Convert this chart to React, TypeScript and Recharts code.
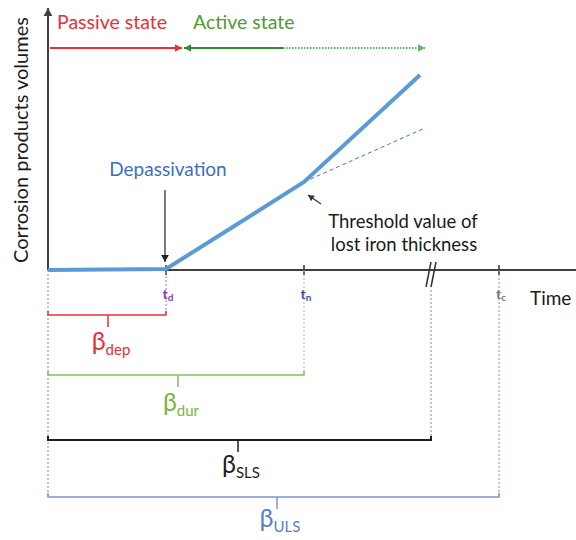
import { LineChart, Line, XAxis, YAxis, ReferenceDot } from "recharts";

// corrosion products curve (time, volume)
const curveTime = [0, 11.8, 25.6, 37.2];
const curveVolume = [0, 0.1, 8.8, 19.5];

// linear trend continued after the threshold
const trendTime = [25.6, 37.7];
const trendVolume = [8.8, 14.2];

// milestone times on the time axis
const milestoneNames = ["d", "n", "c"];
const milestoneTimes = [11.8, 25.6, 45.1];
const milestoneColors = ["#7a3fb0", "#3f4fa8", "#777777"];
const axisBreakTime = 38.3;

// passive / active state arrows along the top
const stateLevel = 22.2;
const passiveSpan = [0.2, 13.4];
const activeSolidSpan = [13.6, 23.5];
const activeDottedSpan = [23.5, 37.7];

// reliability index brackets
const betaNames = ["dep", "dur", "SLS", "ULS"];
const betaEnds = [11.8, 25.6, 38.3, 45.1];
const betaLevels = [-4.5, -10.5, -17, -22.7];
const betaMids = [6.0, 13.0, 19.0, 22.9];
const betaLabelLevels = [-8.0, -14.1, -20.3, -25.7];
const betaColors = ["#e8303a", "#86bf5a", "#1e1e1e", "#7b98cf"];
const betaTextColors = ["#e53238", "#7cb342", "#1e1e1e", "#5b7fc0"];
const dropStart = [-0.2, 0, -2.0, 0];
const dropColors = ["#e0607a", "#9ccc65", "#8a8a8a", "#6d8fcf"];

const FONT = "Lato, 'Open Sans', sans-serif";

type Pt = { x: number; y: number };
const seg = (x0: number, y0: number, x1: number, y1: number): Pt[] => [
  { x: x0, y: y0 },
  { x: x1, y: y1 },
];
const zip = (xs: number[], ys: number[]): Pt[] => xs.map((x, i) => ({ x, y: ys[i] }));

// arrowhead drawn as the dot at the start and/or end of a line
function arrowDot(pts: Pt[], color: string, size: number, atStart: boolean, atEnd: boolean) {
  return (props: any) => {
    const { cx, cy, index } = props;
    const last = pts.length - 1;
    let from: Pt, to: Pt;
    if (index === last && atEnd) {
      from = pts[last - 1];
      to = pts[last];
    } else if (index === 0 && atStart) {
      from = pts[1];
      to = pts[0];
    } else {
      return <g key={index} />;
    }
    // same px-per-unit on both axes, so the data direction is the pixel direction
    const dx = to.x - from.x;
    const dy = -(to.y - from.y);
    const len = Math.hypot(dx, dy) || 1;
    const ux = dx / len;
    const uy = dy / len;
    const w = size * 0.55;
    const bx = cx - ux * size;
    const by = cy - uy * size;
    const d = `M${cx},${cy} L${bx - uy * w},${by + ux * w} L${bx + uy * w},${by - ux * w} Z`;
    return <path key={index} d={d} fill={color} stroke="none" />;
  };
}

function textMark(key: string, x: number, y: number, render: (cx: number, cy: number) => any) {
  return (
    <ReferenceDot
      key={key}
      x={x}
      y={y}
      r={0}
      ifOverflow="visible"
      shape={(p: any) => <g>{render(p.cx, p.cy)}</g>}
    />
  );
}

export default function App() {
  const lines: any[] = [];
  const add = (
    key: string,
    pts: Pt[],
    color: string,
    width: number,
    opts: { dash?: string; start?: boolean; end?: boolean; size?: number } = {}
  ) => {
    const withHead = opts.start || opts.end;
    lines.push(
      <Line
        key={key}
        data={pts}
        dataKey="y"
        type="linear"
        stroke={color}
        strokeWidth={width}
        strokeDasharray={opts.dash}
        dot={withHead ? arrowDot(pts, color, opts.size ?? 7, !!opts.start, !!opts.end) : false}
        activeDot={false}
        isAnimationActive={false}
      />
    );
  };

  // axes
  add("xaxis", seg(0, 0, 52.8, 0), "#404040", 2);
  add("yaxis", seg(0, 0, 0, 26.2), "#404040", 2, { end: true, size: 8 });

  // milestone ticks and axis break
  milestoneTimes.forEach((t, i) => add(`tick${i}`, seg(t, -0.5, t, 0.5), "#303030", 1.5));
  add("break1", seg(axisBreakTime - 0.5, -1.7, axisBreakTime, 0.8), "#303030", 1.5);
  add("break2", seg(axisBreakTime, -1.7, axisBreakTime + 0.5, 0.8), "#303030", 1.5);

  // dotted drop lines to the brackets
  add("drop0", seg(0, 0, 0, betaLevels[3]), "#6d8fcf", 1, { dash: "2 2" });
  betaEnds.forEach((t, i) =>
    add(`drop${i + 1}`, seg(t, dropStart[i], t, betaLevels[i]), dropColors[i], 1, { dash: "2 2" })
  );

  // brackets
  betaEnds.forEach((t, i) => {
    const lv = betaLevels[i];
    add(
      `br${i}`,
      [
        { x: 0, y: lv + 0.4 },
        { x: 0, y: lv },
        { x: t, y: lv },
        { x: t, y: lv + 0.4 },
      ],
      betaColors[i],
      i === 2 ? 2 : 1.5
    );
    add(`stub${i}`, seg(betaMids[i], lv, betaMids[i], lv - 1.2), betaColors[i], 1.5);
  });

  // state arrows
  add("passive", seg(passiveSpan[0], stateLevel, passiveSpan[1], stateLevel), "#e8303a", 2, { end: true, size: 7 });
  add("activeSolid", seg(activeSolidSpan[0], stateLevel, activeSolidSpan[1], stateLevel), "#2f8f2f", 2, {
    start: true,
    size: 7,
  });
  add("activeDotted", seg(activeDottedSpan[0], stateLevel, activeDottedSpan[1], stateLevel), "#63b463", 2, {
    dash: "1.5 1.5",
    end: true,
    size: 7,
  });

  // pointer arrows
  add("depArrow", seg(11.7, 8.0, 11.7, 0.8), "#222222", 1.2, { end: true, size: 7 });
  add("thrArrow", seg(27.3, 6.6, 26.0, 7.5), "#333333", 1.2, { end: true, size: 6 });

  // curves
  add("trend", zip(trendTime, trendVolume), "#4472c4", 1, { dash: "4 3" });
  add("curve", zip(curveTime, curveVolume), "#5b9bd5", 4);

  const texts = [
    textMark("ylabel", -2.8, 13.0, (cx, cy) => (
      <text x={cx} y={cy} transform={`rotate(-90 ${cx} ${cy})`} textAnchor="middle" dominantBaseline="central" fontSize={20} fill="#1a1a1a">
        Corrosion products volumes
      </text>
    )),
    textMark("passiveText", 0.9, 24.1, (cx, cy) => (
      <text x={cx} y={cy} fontSize={19.5} fill="#e53238">
        Passive state
      </text>
    )),
    textMark("activeText", 14.5, 24.1, (cx, cy) => (
      <text x={cx} y={cy} fontSize={19.5} fill="#4f9a34">
        Active state
      </text>
    )),
    textMark("depText", 12.0, 9.4, (cx, cy) => (
      <text x={cx} y={cy} fontSize={19} textAnchor="middle" fill="#3f6fb8">
        Depassivation
      </text>
    )),
    textMark("thr1", 35.5, 4.2, (cx, cy) => (
      <text x={cx} y={cy} fontSize={18.5} textAnchor="middle" fill="#1a1a1a">
        Threshold value of
      </text>
    )),
    textMark("thr2", 35.6, 1.9, (cx, cy) => (
      <text x={cx} y={cy} fontSize={18.5} textAnchor="middle" fill="#1a1a1a">
        lost iron thickness
      </text>
    )),
    textMark("time", 48.2, -3.5, (cx, cy) => (
      <text x={cx} y={cy} fontSize={19} fill="#1a1a1a">
        Time
      </text>
    )),
    ...milestoneTimes.map((t, i) =>
      textMark(`ml${i}`, t + 0.2, -2.9, (cx, cy) => (
        <text x={cx} y={cy} fontSize={14} textAnchor="middle" fill={milestoneColors[i]} fontWeight="bold">
          t<tspan fontSize={10} dy={2}>{milestoneNames[i]}</tspan>
        </text>
      ))
    ),
    ...betaNames.map((n, i) =>
      textMark(`beta${i}`, betaMids[i] + 0.3, betaLabelLevels[i], (cx, cy) => (
        <text x={cx} y={cy} fontSize={25} textAnchor="middle" fill={betaTextColors[i]}>
          β<tspan fontSize={15} dy={5}>{n}</tspan>
        </text>
      ))
    ),
  ];

  return (
    <div style={{ width: 576, height: 540, fontFamily: FONT }}>
      <style>{"body{margin:0;background:#fff}"}</style>
      <LineChart width={576} height={540} margin={{ top: 0, right: 0, bottom: 0, left: 0 }}>
        <XAxis type="number" dataKey="x" domain={[-4.8, 52.8]} allowDataOverflow hide />
        <YAxis type="number" domain={[-27, 27]} allowDataOverflow hide />
        {lines}
        {texts}
      </LineChart>
    </div>
  );
}
